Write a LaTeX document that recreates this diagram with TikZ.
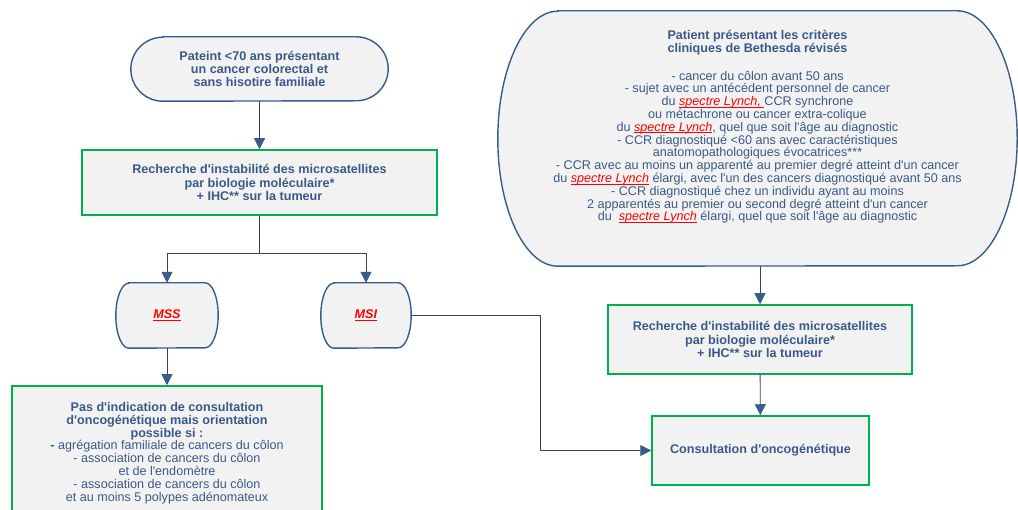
\documentclass[tikz,border=0pt]{standalone}
\usepackage{fontspec}
\setmainfont{Liberation Sans}[Ligatures=TeXOff]
\usetikzlibrary{arrows.meta,backgrounds}

\definecolor{textblue}{RGB}{59,89,136}
\definecolor{shapeblue}{RGB}{56,93,138}
\definecolor{boxgreen}{RGB}{0,176,80}
\definecolor{fillgray}{RGB}{242,242,242}
\definecolor{linegray}{RGB}{64,64,80}
\definecolor{lynchred}{RGB}{255,0,0}

% red italic text with a thin rule just under the baseline
\newcommand{\lynch}[1]{\textcolor{lynchred}{\setbox0\hbox{\textit{#1}}\rlap{\rule[-1.8pt]{\wd0}{0.7pt}}\box0}}
\newcommand{\msred}[1]{\lynch{\bfseries #1}}
% outline with half-ellipse ends, fitted to the node box
\newcommand{\bulge}[3]{\path[bulgeline] ([xshift=#2pt]#1.north west) -- ([xshift=-#2pt]#1.north east)
  arc[start angle=90, end angle=-90, x radius=#2, y radius=#3] -- ([xshift=#2pt]#1.south west)
  arc[start angle=270, end angle=90, x radius=#2, y radius=#3] -- cycle;}

\begin{document}
\begin{tikzpicture}[x=1pt, y=1pt,
  boldtext/.style={text=textblue, align=center, inner sep=0pt, font=\fontsize{12.6}{13.2}\selectfont\bfseries},
  plaintext/.style={text=textblue, align=center, inner sep=0pt, font=\fontsize{12.6}{12.8}\selectfont},
  greenbox/.style={draw=boxgreen, line width=1.5pt, fill=fillgray},
  bulgeline/.style={draw=shapeblue, line width=1.4pt, fill=fillgray},
  flow/.style={draw=linegray, line width=0.9pt, -{Triangle[width=11pt, length=11pt, color=shapeblue]}}]
\path[use as bounding box, clip] (0,0) rectangle (1018,-510);

\node[boldtext, minimum width=257, minimum height=64] (patient) at (259.5,-69) {Pateint <70 ans présentant\\un cancer colorectal et\\sans hisotire familiale};
\node[boldtext, greenbox, minimum width=355, minimum height=65] (rech1) at (259.5,-182.5) {Recherche d'instabilité des microsatellites\\par biologie moléculaire*\\+ IHC** sur la tumeur};
\node[boldtext, minimum width=102, minimum height=65] (mss) at (167,-315.5) {\msred{MSS}};
\node[boldtext, minimum width=90, minimum height=65] (msi) at (366,-315.5) {\msred{MSI}};
\node[plaintext, greenbox, minimum width=310, minimum height=134] (pasind) at (167,-453) {\textbf{Pas d'indication de consultation}\\\textbf{d'oncogénétique mais orientation}\\\textbf{possible si :}\\\textbf{-} agrégation familiale de cancers du côlon\\- association de cancers du côlon\\et de l'endomètre\\- association de cancers du côlon\\et au moins 5 polypes adénomateux};

\node[plaintext, minimum width=519, minimum height=255] (bethesda) at (757.5,-138.5) {\textbf{Patient présentant les critères}\\\textbf{cliniques de Bethesda révisés}\\[15pt]
  - cancer du côlon avant 50 ans\\
  - sujet avec un antécédent personnel de cancer\\
  du \lynch{spectre Lynch, }CCR synchrone\\
  ou métachrone ou cancer extra-colique\\
  du \lynch{spectre Lynch}, quel que soit l'âge au diagnostic\\
  - CCR diagnostiqué <60 ans avec caractéristiques\\
  anatomopathologiques évocatrices***\\
  - CCR avec au moins un apparenté au premier degré atteint d'un cancer\\
  du \lynch{spectre Lynch} élargi, avec l'un des cancers diagnostiqué avant 50 ans\\
  - CCR diagnostiqué chez un individu ayant au moins\\
  2 apparentés au premier ou second degré atteint d'un cancer\\
  du~~\lynch{spectre Lynch} élargi, quel que soit l'âge au diagnostic\\[13pt]~};
\node[boldtext, greenbox, minimum width=304, minimum height=69] (rech2) at (760,-339.5) {Recherche d'instabilité des microsatellites\\par biologie moléculaire*\\+ IHC** sur la tumeur};
\node[boldtext, greenbox, minimum width=217, minimum height=69] (consult) at (760.5,-450.5) {Consultation d'oncogénétique};

\begin{scope}[on background layer]
\bulge{patient}{32}{32}
\bulge{mss}{13}{32.5}
\bulge{msi}{13}{32.5}
\bulge{bethesda}{60}{127.5}
\end{scope}

\draw[flow] (patient) -- (rech1);
\draw[flow] (rech1.south) -- ++(0,-38) -| (mss.north);
\draw[flow] (rech1.south) -- ++(0,-38) -| (msi.north);
\draw[flow] (mss) -- (pasind);
\draw[flow] (msi.east) -- ++(129,0) |- (consult.west);
\draw[flow] (rech2.north |- bethesda.south) -- (rech2.north);
\draw[flow] (rech2) -- (consult);
\end{tikzpicture}
\end{document}
